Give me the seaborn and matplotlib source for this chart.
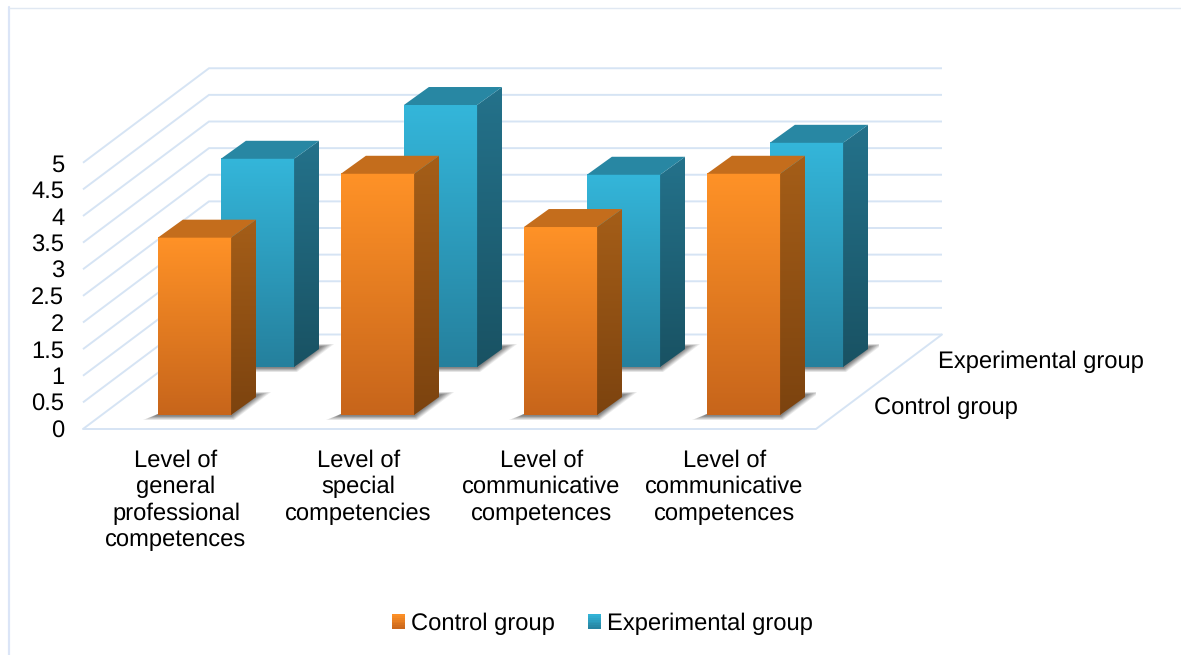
import numpy as np
import pandas as pd
import seaborn as sns
import matplotlib.pyplot as plt
from matplotlib.colors import to_rgb
from matplotlib.legend_handler import HandlerBase
from matplotlib.lines import Line2D
from matplotlib.patches import Patch, Polygon, Rectangle

# data
categories = ['Level of\ngeneral\nprofessional\ncompetences',
              'Level of\nspecial\ncompetencies',
              'Level of\ncommunicative\ncompetences',
              'Level of\ncommunicative\ncompetences']
control_values = [3.33, 4.53, 3.53, 4.53]
experimental_values = [3.91, 4.92, 3.61, 4.21]
y_ticks = [0, 0.5, 1, 1.5, 2, 2.5, 3, 3.5, 4, 4.5, 5]
y_tick_labels = ['0', '0.5', '1', '1.5', '2', '2.5', '3', '3.5', '4', '4.5', '5']

W, H = 1181, 655
PX_Y = 53.25   # pixels per unit on the value axis
FONT = 17.1
LINE = '#d6e4f4'

# colours of the faces: top/bottom of each gradient
ORANGE = dict(front=('#ff9227', '#c7651b'), side=('#a55e18', '#7c430f'), top='#c46d1c')
BLUE = dict(front=('#34b6da', '#25809d'), side=('#24728b', '#195263'), top='#2887a3')

sns.set_theme(style='white')
plt.rcParams['font.family'] = ['Liberation Sans']
plt.rcParams['text.color'] = 'black'
plt.rcParams['xtick.color'] = 'black'
plt.rcParams['ytick.color'] = 'black'
plt.rcParams['text.hinting'] = 'no_hinting'

fig = plt.figure(figsize=(W / 100, H / 100), dpi=100, facecolor='white')


def add_axes_px(left, right, base, top_value, below=0):
    # axes placed in pixels of the picture, y measured from the top
    return fig.add_axes([left / W, 1 - (base + below * PX_Y) / H, (right - left) / W,
                         (top_value + below) * PX_Y / H])


def gradient(ax, extent, colors, clip=None):
    c0, c1 = np.array(to_rgb(colors[0])), np.array(to_rgb(colors[1]))
    t = np.linspace(0, 1, 128)[:, None, None]
    im = ax.imshow(c0 * (1 - t) + c1 * t, extent=extent, aspect='auto', zorder=3)
    if clip is not None:
        im.set_clip_path(clip)
    return im


def draw_layer(name, values, palette, left, center0, base):
    # one row of bars in its own axes, moved back along the floor
    ax = add_axes_px(left, left + 733, base, 7, below=1)
    ax.patch.set_alpha(0)
    df = pd.DataFrame({'category': [str(i) for i in range(len(values))], name: values})
    sns.barplot(data=df, x='category', y=name, color=palette['front'][0],
                saturation=1, width=0.4, ax=ax)
    xlim = ((left - center0) / 183, (left + 733 - center0) / 183)
    dx, dy = 25 / 183, 18 / PX_Y
    for bar in list(ax.patches):
        x0, w, h = bar.get_x(), bar.get_width(), bar.get_height()
        x1 = x0 + w

        # soft shadow on the floor
        for grow, alpha in zip([1.0, 0.85, 0.7, 0.55, 0.4, 0.25], [0.1, 0.12, 0.14, 0.16, 0.18, 0.2]):
            ex, ey = grow * 15 / 183, grow * 5 / PX_Y
            ax.add_patch(Polygon([(x0 - ex, -ey), (x1 + ex * 0.2, -ey),
                                  (x1 + dx + ex, dy + 2 / PX_Y + ey * 0.6),
                                  (x1 + dx - 0.03, dy + 2 / PX_Y + ey * 0.6), (x0, 0.02)],
                                 facecolor='#404040', edgecolor='none', alpha=alpha, zorder=1))

        gradient(ax, (x0, x1, 0, h), palette['front'])
        side = Polygon([(x1, 0), (x1 + dx, dy), (x1 + dx, h + dy), (x1, h)],
                       facecolor='none', edgecolor='none', transform=ax.transData)
        ax.add_patch(side)
        gradient(ax, (x1, x1 + dx, 0, h + dy), palette['side'], clip=side)
        ax.add_patch(Polygon([(x0, h), (x0 + dx, h + dy), (x1 + dx, h + dy), (x1, h)],
                             facecolor=palette['top'], edgecolor='none', zorder=3))
    ax.set_xlim(*xlim)
    ax.set_ylim(-1, 7)
    ax.axis('off')
    return ax


# back wall, floor and the value axis
ax = add_axes_px(83, 816, 429, 5)
ax.set_xlim((83 - 176) / 182.7, (816 - 176) / 182.7)
ax.set_ylim(0, 5)
x_left, x_right = ax.get_xlim()
depth_x = 126 / 182.7
depth_y = 94.5 / PX_Y
for v in y_ticks:
    ax.plot([x_left, x_left + depth_x, x_right + depth_x], [v, v + depth_y, v + depth_y],
            color=LINE, lw=1.4, clip_on=False, solid_capstyle='butt', solid_joinstyle='miter')
ax.plot([x_left, x_right, x_right + depth_x], [0, 0, depth_y], color=LINE, lw=1.4, clip_on=False)
sns.despine(ax=ax, left=True, bottom=True)
ax.patch.set_alpha(0)
ax.set_yticks(y_ticks)
ax.set_yticklabels(y_tick_labels, fontsize=FONT)
ax.set_xticks(range(len(categories)))
ax.set_xticklabels(categories, fontsize=FONT, linespacing=1.24)
ax.tick_params(axis='y', length=0, pad=13.5)
ax.tick_params(axis='x', length=0, pad=14.5)

draw_layer('Experimental group', experimental_values, BLUE, 146, 257.5, 367)
draw_layer('Control group', control_values, ORANGE, 83, 194.5, 415)

# names of the depth axis
fig.text(874 / W, 1 - 408 / H, 'Control group', fontsize=FONT, va='center', ha='left')
fig.text(938 / W, 1 - 362 / H, 'Experimental group', fontsize=FONT, va='center', ha='left')


class GradientHandle(HandlerBase):
    def create_artists(self, legend, orig_handle, xdescent, ydescent, width, height, fontsize, trans):
        c0, c1 = np.array(to_rgb(orig_handle.colors[0])), np.array(to_rgb(orig_handle.colors[1]))
        n = 8
        rects = []
        for i in range(n):
            t = (i + 0.5) / n
            rects.append(Rectangle((-xdescent, -ydescent + height * (1 - (i + 1) / n)), width,
                                   height / n + 0.2, facecolor=c0 * (1 - t) + c1 * t,
                                   edgecolor='none', transform=trans))
        return rects


h_control = Patch(label='Control group')
h_control.colors = ORANGE['front']
h_experimental = Patch(label='Experimental group')
h_experimental.colors = BLUE['front']
fig.legend(handles=[h_control, h_experimental], ncol=2, frameon=False, fontsize=FONT,
           loc='center', bbox_to_anchor=(602.5 / W, 1 - 624 / H),
           handler_map={Patch: GradientHandle()}, handlelength=0.55, handleheight=0.55,
           handletextpad=0.25, columnspacing=1.4, borderpad=0, borderaxespad=0)

# thin frame of the chart area
fig.add_artist(Line2D([9 / W, 9 / W], [0, 1 - 7 / H], color='#dbe5f7', lw=1.6))
fig.add_artist(Line2D([9 / W, 1], [1 - 7.5 / H, 1 - 7.5 / H], color='#e0e8f2', lw=1))

fig.savefig('out.png', dpi=100, facecolor='white')
